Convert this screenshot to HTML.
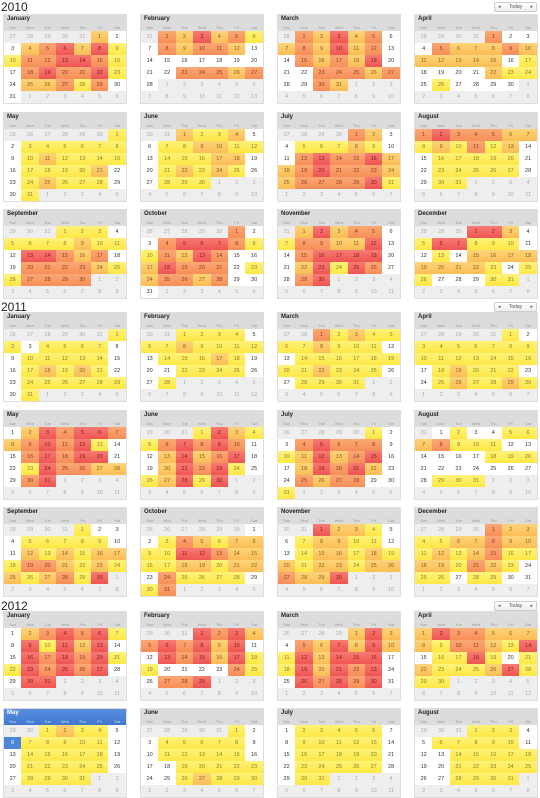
<!DOCTYPE html>
<html><head><meta charset="utf-8">
<style>
*{margin:0;padding:0;box-sizing:border-box}
body{width:540px;height:797px;overflow:hidden;background:#fff;font-family:"Liberation Sans",sans-serif;position:relative}
.yr{position:absolute;left:1px;font-size:12px;color:#222}
.today{position:absolute;left:494px;width:43px;height:10px;border:1px solid #ccc;border-radius:2px;background:linear-gradient(#fff,#eee);font-size:5px;color:#555;display:flex;align-items:center;justify-content:space-between;padding:0 3px}
.mon{position:absolute;width:124px;height:90px;background:#eee;border:1px solid #ddd}
.mh{position:absolute;left:0;top:0;width:122px;height:16px;background:#dcdcdc}
.mn{position:absolute;left:3px;top:1px;font-size:6px;font-weight:bold;color:#222}
.dn{position:absolute;top:10px;font-size:4px;color:#999;width:17.4px;text-align:center}
.c{position:absolute;width:17.4px;height:12px;font-size:5.5px;text-align:center;line-height:12px;color:#333}
.o{background:#eee;color:#aaa}
.l0{background:#fff}
.l1{background:linear-gradient(#fff27a,#fde843);color:#8a7a20}
.l2{background:linear-gradient(#fdd478,#fbbd55);color:#8a5a20}
.l3{background:linear-gradient(#fba874,#f78e58);color:#8a3a20}
.l4{background:linear-gradient(#f77b73,#ef5552);color:#7a1a1a}
.sel{background:#4d86d8;color:#fff}
</style></head><body>
<div id="root"></div>
<script>
const years=[2010,2011,2012];
const monthNames=["January","February","March","April","May","June","July","August","September","October","November","December"];
const dayNames=["Sun","Mon","Tue","Wed","Thu","Fri","Sat"];
const levels2010=[
"2002342411334431034334102231300",
"3242310323320000000000333230"+"0",
"3242302324230032324000333230"+"0323",
"300032223222222010000211010000",
"1011111101211110111120012111001",
"211200112211011122001212100111",
"3200111210034334223433322333341",
"3433322121312001111100111110011",
"111011112110443230033332113333",
"3003444311324300243330123323000",
"242330133224003444400241430034",
"4420144111001022222222101100011"];
const levels2011=[
"1101111001111100121210011111101",
"1111011211110111210001111001",
"3121111211100111111112111001111",
"101111111111111101211100121121",
"0243443234341003434400143322034",
"142113434300242340024341012414",
"1003433301242340024342003233001",
"0100112311100000011100000000111",
"100011111002121221332121212314",
"0013212211443221122122031111013",
"422100122110012212121221223224",
"3221122322121231122132101101100"];
const levels2012=[
"0234341041424004343411434340044",
"43423434240043424110000310334",
"2420324242142444014243400434340",
"243322221332140114101211124111",
"1211001111100111110011111001111",
"100111110011111000111110012111",
"0111110011111001111100111110011",
"1110011111000111110011111001111"];
const levelData={2010:levels2010,2011:levels2011,2012:levels2012};
const selected={y:2012,m:4,d:6};
const yearTops={2010:0,2011:300,2012:599};
const monthTops={2010:[14,112,209],2011:[312,410,507],2012:[611,708]};
const colX=[3,140,277,414];
const root=document.getElementById('root');
function mk(cls,parent){const e=document.createElement('div');e.className=cls;parent.appendChild(e);return e;}
years.forEach(y=>{
  const yl=mk('yr',root);
  
  
  yl.style.top=yearTops[y]+'px';yl.textContent=y;
  const tb=mk('today',root);
  
  
  tb.style.top=(yearTops[y]+2)+'px';
  tb.innerHTML='<span>◂</span><span>Today</span><span>▸</span>';
  levelData[y].forEach((lv,m)=>{
    const row=Math.floor(m/4),col=m%4;
    if(row>=monthTops[y].length)return;
    const mon=mk('mon',root);
    
    
    mon.style.left=colX[col]+'px';mon.style.top=monthTops[y][row]+'px';
    const mh=mk('mh',mon);
    
    
    if(y===selected.y&&m===selected.m){mh.style.background='linear-gradient(#5a8fe0,#3f78d0)';}
    const mn=mk('mn',mh);
    
    
    mn.textContent=monthNames[m];
    if(y===selected.y&&m===selected.m)mn.style.color='#fff';
    dayNames.forEach((d,i)=>{const dn=mk('dn',mh);
      
      
      dn.style.left=(i*17.4)+'px';dn.textContent=d;
      if(y===selected.y&&m===selected.m)dn.style.color='#cde';});
    const start=new Date(y,m,1).getDay();
    const first=new Date(y,m,1-start);
    for(let k=0;k<42;k++){
      const dt=new Date(first.getFullYear(),first.getMonth(),first.getDate()+k);
      const c=mk('c',mon);
      
      
      c.style.left=((k%7)*17.4)+'px';c.style.top=(16+Math.floor(k/7)*12)+'px';
      c.textContent=dt.getDate();
      if(dt.getMonth()!==m){c.classList.add('o');}
      else if(y===selected.y&&m===selected.m&&dt.getDate()===selected.d){c.classList.add('sel');}
      else{c.classList.add('l'+(lv[dt.getDate()-1]||'0'));}
    }
  });
});
</script>
</body></html>
